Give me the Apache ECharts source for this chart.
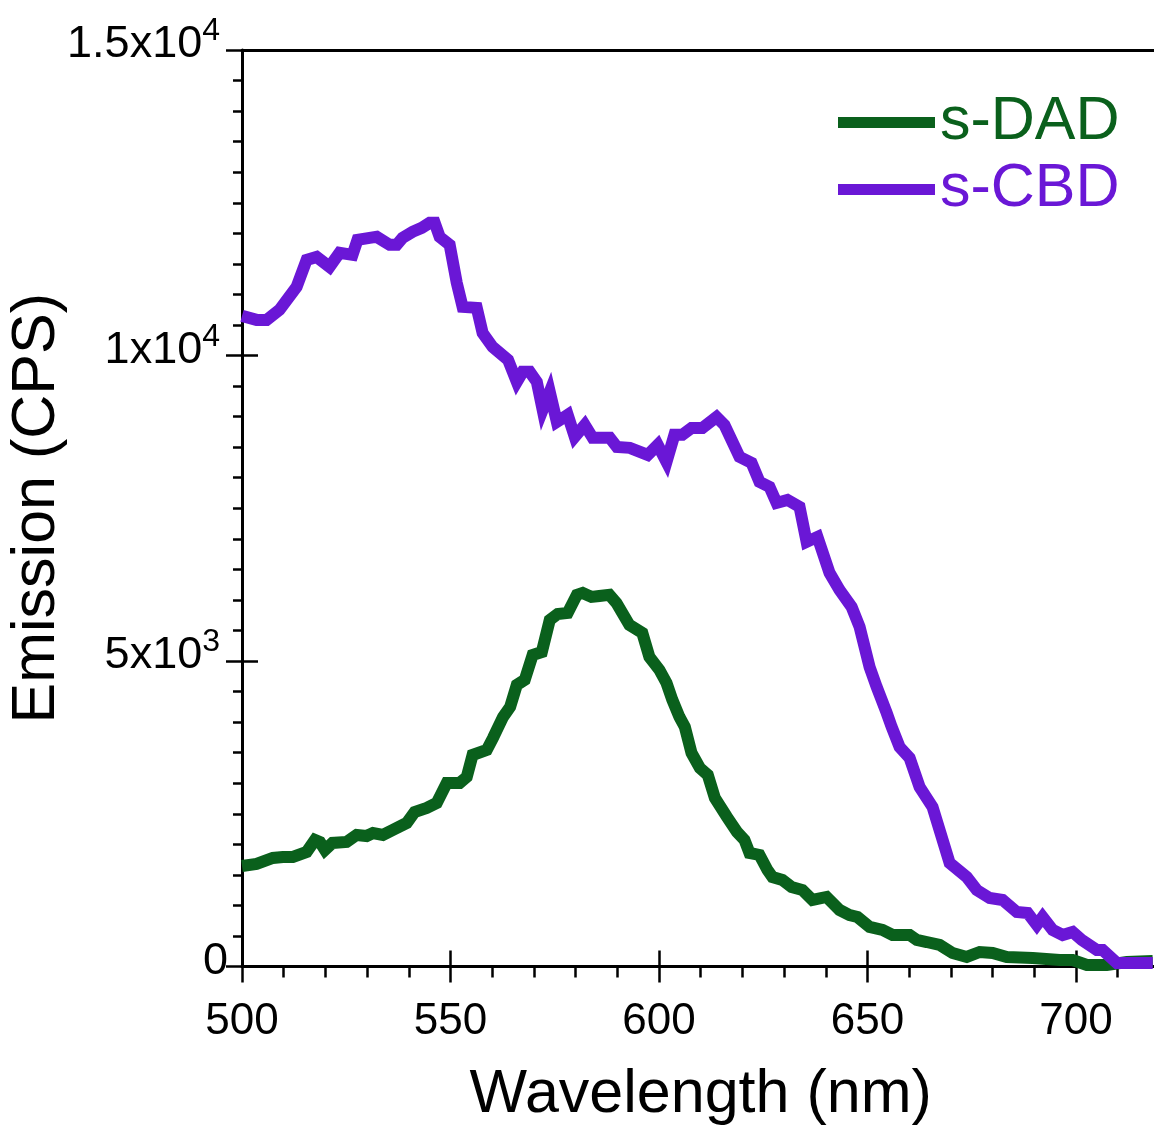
<!DOCTYPE html>
<html><head><meta charset="utf-8">
<script src="https://cdn.jsdelivr.net/npm/echarts@6/dist/echarts.min.js"></script>
<style>html,body{margin:0;padding:0;background:#fff}#c{width:1154px;height:1129px}</style>
</head><body><div id="c"></div><script>
// s-DAD (green) : wavelength (nm) / emission (CPS)
const dadWavelength = [500,503.5,507.4,509.8,512.2,515.5,517.5,518.7,519.9,521.7,525.1,527.5,529.9,531.4,533.8,536.2,539.5,541.4,544.3,546.7,549.1,552.2,553.9,555.3,558.7,560.2,562.6,564.3,565.9,567.8,569.7,571.9,573.8,575.7,578.1,580.3,581.7,583.8,585.7,588.1,589.8,592.9,596.0,597.7,600.1,601.8,603.2,604.9,606.2,607.8,609.8,611.7,613.4,616.3,618.7,620.5,621.7,624.1,626.0,627.2,629.6,631.8,634.4,636.8,640.2,643.3,645.7,647.6,650.5,653.6,656.0,660.1,661.8,664.2,667.3,670.4,673.8,676.9,680.0,683.4,689.6,696.1,699.2,702.6,707.4,712.2,718.4];
const dadEmission = [1645,1678,1776,1793,1793,1874,2071,2038,1907,2022,2038,2153,2136,2185,2153,2235,2349,2529,2595,2676,3004,3004,3102,3462,3544,3741,4084,4248,4608,4690,5099,5148,5672,5770,5787,6082,6114,6049,6065,6082,5950,5590,5459,5067,4854,4641,4363,4084,3921,3495,3249,3135,2758,2447,2202,2071,1858,1825,1580,1465,1416,1301,1252,1089,1138,925,843,810,647,598,516,516,434,401,352,221,156,237,221,156,139,106,106,25,25,74,90];
// s-CBD (purple)
const cbdWavelength = [500,503.5,505.9,509.0,513.1,515.5,517.9,521.0,523.4,526.5,527.7,530.6,532.3,535.4,537.1,538.5,540.9,543.1,545.0,546.2,547.4,549.8,551.5,552.9,556.3,557.7,560.1,563.8,565.9,567.3,569.0,570.7,572.1,573.8,575.5,578.1,579.8,582.2,584.1,588.2,589.9,593.0,597.3,599.7,601.8,603.7,605.6,607.8,610.4,613.8,615.7,619.3,622.2,624.1,626.5,628.2,630.8,633.7,635.4,638.0,640.9,643.3,646.2,648.1,650.5,652.2,654.6,655.8,657.7,660.1,662.5,665.6,669.7,673.8,676.2,679.3,682.4,685.8,688.4,690.6,692.0,694.4,696.8,699.2,701.4,705.0,706.4,709.8,713.6,718.4];
const cbdEmission = [10649,10583,10583,10747,11123,11565,11614,11451,11680,11647,11893,11926,11942,11811,11811,11926,12024,12089,12171,12171,11942,11811,11189,10796,10780,10370,10141,9930,9568,9732,9732,9568,9110,9405,8913,9028,8668,8864,8652,8652,8504,8488,8373,8537,8259,8701,8701,8815,8815,8995,8864,8341,8242,7931,7849,7587,7637,7522,6949,7031,6442,6163,5885,5558,4903,4575,4150,3921,3593,3413,2938,2611,1694,1465,1252,1121,1089,892,876,679,810,598,516,565,434,270,270,57,57,57];
const seriesNames = ['s-DAD','s-CBD'];
const xTickLabels = [500,550,600,650,700];
const yTickLabels = {0:'{z|0}', 5000:'{b|5x10}{s|3}', 10000:'{b|1x10}{s|4}', 15000:'{b|1.5x10}{s|4}'};

const GREEN = '#0a601c', PURPLE = '#6a17d6';
const FONT = 'Liberation Sans';
const pairs = (xs, ys) => xs.map((x, i) => [x, ys[i]]);

const chart = echarts.init(document.getElementById('c'), null, {renderer:'canvas'});
const X = {min:500, max:720};
const Y = {min:0, max:15000};
const blankX = (extra) => Object.assign({type:'value', min:X.min, max:X.max, position:'bottom',
  axisLine:{show:false, onZero:false}, axisLabel:{show:false}, splitLine:{show:false}}, extra);
const blankY = (extra) => Object.assign({type:'value', min:Y.min, max:Y.max, position:'left',
  axisLine:{show:false, onZero:false}, axisLabel:{show:false}, splitLine:{show:false}}, extra);
const tickStyle = {color:'#000', width:2.5};

chart.setOption({
  animation:false,
  backgroundColor:'#fff',
  grid:{left:242, top:50, width:917.4, height:916.5, containLabel:false, outerBoundsMode:'none'},
  legend:{orient:'vertical', left:833, top:87, itemWidth:97, itemHeight:11, itemGap:6, icon:'rect',
    textStyle:{fontSize:61, fontFamily:FONT, lineHeight:60},
    data:[{name:seriesNames[0], textStyle:{color:GREEN}}, {name:seriesNames[1], textStyle:{color:PURPLE}}]},
  xAxis:[
    {type:'value', min:X.min, max:X.max, interval:10, position:'bottom',
     name:'Wavelength (nm)', nameLocation:'middle', nameGap:98, nameMoveOverlap:false,
     nameTextStyle:{fontSize:61, fontFamily:FONT, color:'#000'},
     axisLine:{show:true, onZero:false, lineStyle:{color:'#000', width:3}},
     axisTick:{show:true, length:11, lineStyle:tickStyle},
     axisLabel:{formatter:v => xTickLabels.includes(v) ? String(v) : '', fontSize:44, fontFamily:FONT, color:'#000', margin:33},
     splitLine:{show:false}},
    blankX({interval:50, axisTick:{show:true, length:16, lineStyle:tickStyle}}),
    blankX({interval:50, axisTick:{show:true, inside:true, length:16, lineStyle:tickStyle}}),
    blankX({position:'top', axisLine:{show:true, onZero:false, lineStyle:{color:'#000', width:3}}, axisTick:{show:false}})
  ],
  yAxis:[
    {type:'value', min:Y.min, max:Y.max, interval:500, position:'left',
     name:'Emission (CPS)', nameLocation:'middle', nameGap:174, nameRotate:90, nameMoveOverlap:false,
     nameTextStyle:{fontSize:61, fontFamily:FONT, color:'#000'},
     axisLine:{show:true, onZero:false, lineStyle:{color:'#000', width:3}},
     axisTick:{show:true, length:9, lineStyle:tickStyle},
     axisLabel:{formatter:v => yTickLabels[v] || '', margin:14, padding:[0,0,10,0],
       rich:{
         b:{fontSize:45, fontFamily:FONT, color:'#000', lineHeight:45, verticalAlign:'bottom'},
         s:{fontSize:32, fontFamily:FONT, color:'#000', lineHeight:32, padding:[0,8,20,0], verticalAlign:'bottom'},
         z:{fontSize:45, fontFamily:FONT, color:'#000', lineHeight:45, padding:[7,0,0,0], verticalAlign:'bottom'}
       }},
     splitLine:{show:false}},
    blankY({interval:5000, axisTick:{show:true, length:16, lineStyle:tickStyle}}),
    blankY({interval:5000, axisTick:{show:true, inside:true, length:16, lineStyle:tickStyle}})
  ],
  series:[
    {name:seriesNames[0], type:'line', data:pairs(dadWavelength, dadEmission), showSymbol:false, symbol:'none',
     clip:false, color:GREEN, lineStyle:{width:12, color:GREEN, join:'miter', miterLimit:4}, z:3},
    {name:seriesNames[1], type:'line', data:pairs(cbdWavelength, cbdEmission), showSymbol:false, symbol:'none',
     clip:false, color:PURPLE, lineStyle:{width:12, color:PURPLE, join:'miter', miterLimit:4}, z:4}
  ]
});
</script></body></html>
